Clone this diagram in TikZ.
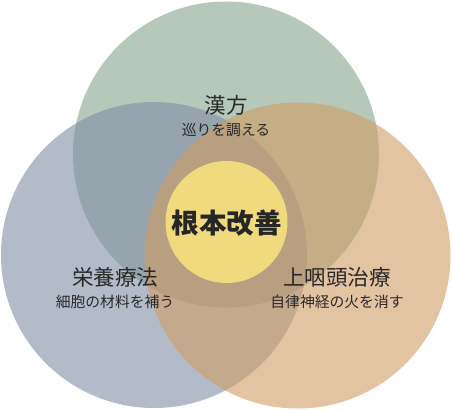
\documentclass[tikz,border=0pt]{standalone}
\usepackage{fontspec}
\newfontfamily\jp{Noto Sans CJK JP}
\usetikzlibrary{positioning}
\definecolor{kanpoColor}{RGB}{132,163,140}
\definecolor{eiyouColor}{RGB}{128,142,165}
\definecolor{jouinColor}{RGB}{208,157,100}
\definecolor{coreColor}{RGB}{240,218,125}
\definecolor{textColor}{RGB}{40,40,40}

\begin{document}
\begin{tikzpicture}[x=1pt,y=-1pt,
                    circ/.style={circle,draw=none,inner sep=0pt,minimum size=306pt,fill opacity=0.6},
                    title/.style={font=\jp\fontsize{21.5}{21.5}\selectfont,text=textColor,inner sep=0pt},
                    sub/.style={font=\jp\fontsize{14.8}{14.8}\selectfont,text=textColor,inner sep=0pt}]

\useasboundingbox (0,0) rectangle (452,410);

\node[circ,fill=kanpoColor] (K) at (226,154.5) {};
\node[circ,fill=eiyouColor] (E) at (154,255) {};
\node[circ,fill=jouinColor] (J) at (297.5,255.5) {};
\node[circle,fill=coreColor,inner sep=0pt,minimum size=122pt] (C) at (226.5,222) {};

\node[font=\jp\bfseries\fontsize{27.5}{27.5}\selectfont,text=black!85,inner sep=0pt] (core) at (226.5,223) {根本改善};

\node[title] (kt) at (226,105) {漢方};
\node[sub] (ks) [below=8pt of kt] {巡りを調える};

\node[title] (et) at (115,277) {栄養療法};
\node[sub] (es) [below=8pt of et] {細胞の材料を補う};

\node[title] (jt) at (337,277) {上咽頭治療};
\node[sub] (js) [below=8pt of jt] {自律神経の火を消す};
\end{tikzpicture}
\end{document}
